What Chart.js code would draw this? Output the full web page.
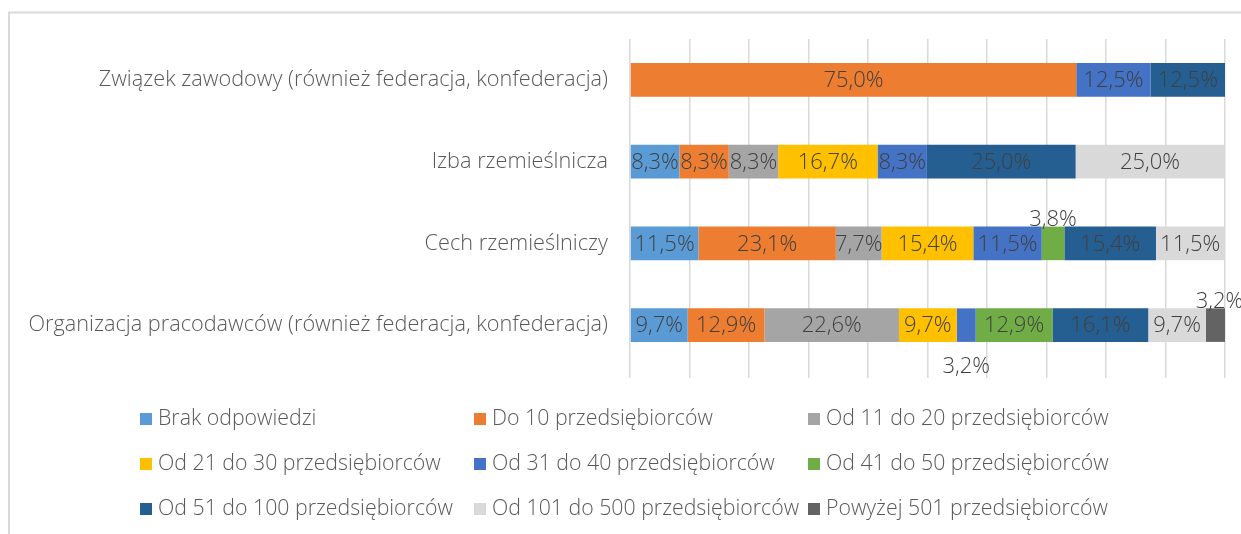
<!DOCTYPE html>
<html>
<head>
<meta charset="utf-8">
<script src="https://cdn.jsdelivr.net/npm/chart.js@4"></script>
<style>
  html, body { margin: 0; padding: 0; background: #fff; overflow: hidden; }
  #wrap { position: relative; width: 1241px; height: 534px; }
</style>
</head>
<body>
<div id="wrap"><canvas id="orgChart"></canvas></div>
<script>
// categories (top to bottom)
var categories = [
  'Związek zawodowy (również federacja, konfederacja)',
  'Izba rzemieślnicza',
  'Cech rzemieślniczy',
  'Organizacja pracodawców (również federacja, konfederacja)'
];

// one array per answer, values in % for each category
var brakOdp   = [0, 8.3, 11.5, 9.7];
var do10      = [75.0, 8.3, 23.1, 12.9];
var od11do20  = [0, 8.3, 7.7, 22.6];
var od21do30  = [0, 16.7, 15.4, 9.7];
var od31do40  = [12.5, 8.3, 11.5, 3.2];
var od41do50  = [0, 0, 3.8, 12.9];
var od51do100 = [12.5, 25.0, 15.4, 16.1];
var od101do500 = [0, 25.0, 11.5, 9.7];
var powyzej501 = [0, 0, 0, 3.2];

var seriesNames = [
  'Brak odpowiedzi',
  'Do 10 przedsiębiorców',
  'Od 11 do 20 przedsiębiorców',
  'Od 21 do 30 przedsiębiorców',
  'Od 31 do 40 przedsiębiorców',
  'Od 41 do 50 przedsiębiorców',
  'Od 51 do 100 przedsiębiorców',
  'Od 101 do 500 przedsiębiorców',
  'Powyżej 501 przedsiębiorców'
];
var seriesValues = [brakOdp, do10, od11do20, od21do30, od31do40, od41do50, od51do100, od101do500, powyzej501];
var seriesColors = ['#5B9BD5', '#ED7D31', '#A5A5A5', '#FFC000', '#4472C4', '#70AD47', '#255E91', '#D9D9D9', '#636363'];

// labels that do not fit in their segment go above or below the bar
var outsideLabels = { '5-2': 'above', '4-3': 'below', '8-3': 'above' };

var FONT = '"Open Sans"';

var datasets = seriesNames.map(function (name, i) {
  return {
    label: name,
    data: seriesValues[i],
    backgroundColor: seriesColors[i],
    borderWidth: 0,
    barPercentage: 0.41,
    categoryPercentage: 1.0
  };
});

// frame round the chart
const framePlugin = {
  id: 'frame',
  beforeDraw: function (chart) {
    var ctx = chart.ctx;
    ctx.save();
    ctx.strokeStyle = '#d9d9d9';
    ctx.lineWidth = 2;
    ctx.beginPath();
    ctx.moveTo(9, chart.height);
    ctx.lineTo(9, 12.5);
    ctx.lineTo(chart.width, 12.5);
    ctx.stroke();
    ctx.restore();
  }
};

// value labels on the segments
const valueLabels = {
  id: 'valueLabels',
  afterDatasetsDraw: function (chart) {
    var ctx = chart.ctx;
    ctx.save();
    ctx.font = '300 22px ' + FONT;
    ctx.fillStyle = '#404040';
    ctx.textAlign = 'center';
    ctx.textBaseline = 'middle';
    chart.data.datasets.forEach(function (ds, di) {
      var meta = chart.getDatasetMeta(di);
      meta.data.forEach(function (bar, ci) {
        var v = ds.data[ci];
        if (!v) return;
        var txt = v.toFixed(1).replace('.', ',') + '%';
        var p = bar.getProps(['x', 'y', 'base', 'height'], true);
        var cx = (p.x + p.base) / 2;
        var cy = p.y;
        var where = outsideLabels[di + '-' + ci];
        if (where === 'above') cy = p.y - p.height / 2 - 8;
        if (where === 'below') cy = p.y + p.height / 2 + 24;
        if (di === 8 && where === 'above') cx += 4;
        ctx.fillText(txt, cx, cy + 1);
      });
    });
    ctx.restore();
  }
};

// legend in a 3 x 3 grid
const gridLegend = {
  id: 'gridLegend',
  afterDraw: function (chart) {
    var ctx = chart.ctx;
    ctx.save();
    ctx.font = '300 21.3px ' + FONT;
    ctx.textBaseline = 'middle';
    ctx.textAlign = 'left';
    chart.data.datasets.forEach(function (ds, i) {
      var col = i % 3, row = Math.floor(i / 3);
      var x = 140 + col * 334;
      var y = 419 + row * 45;
      ctx.fillStyle = ds.backgroundColor;
      ctx.fillRect(x, y - 6, 12, 12);
      ctx.fillStyle = '#595959';
      ctx.fillText(ds.label, x + 18, y);
    });
    ctx.restore();
  }
};

new Chart(document.getElementById('orgChart').getContext('2d'), {
  type: 'bar',
  data: { labels: categories, datasets: datasets },
  options: {
    indexAxis: 'y',
    responsive: true,
    maintainAspectRatio: false,
    animation: false,
    layout: { padding: { top: 39, right: 16, bottom: 156, left: 0 } },
    plugins: {
      legend: { display: false },
      tooltip: { enabled: false }
    },
    scales: {
      x: {
        stacked: true,
        min: 0,
        max: 100,
        ticks: { display: false, stepSize: 10 },
        grid: { color: '#d9d9d9', lineWidth: 1.5, drawTicks: true, tickLength: 12 },
        border: { display: false }
      },
      y: {
        stacked: true,
        afterFit: function (scale) { scale.width = 630; },
        grid: { display: false, drawTicks: false },
        border: { display: false },
        ticks: { padding: 22, color: '#595959', font: { family: FONT, size: 21.7, weight: '300' } }
      }
    }
  },
  plugins: [framePlugin, valueLabels, gridLegend]
});
</script>
</body>
</html>
